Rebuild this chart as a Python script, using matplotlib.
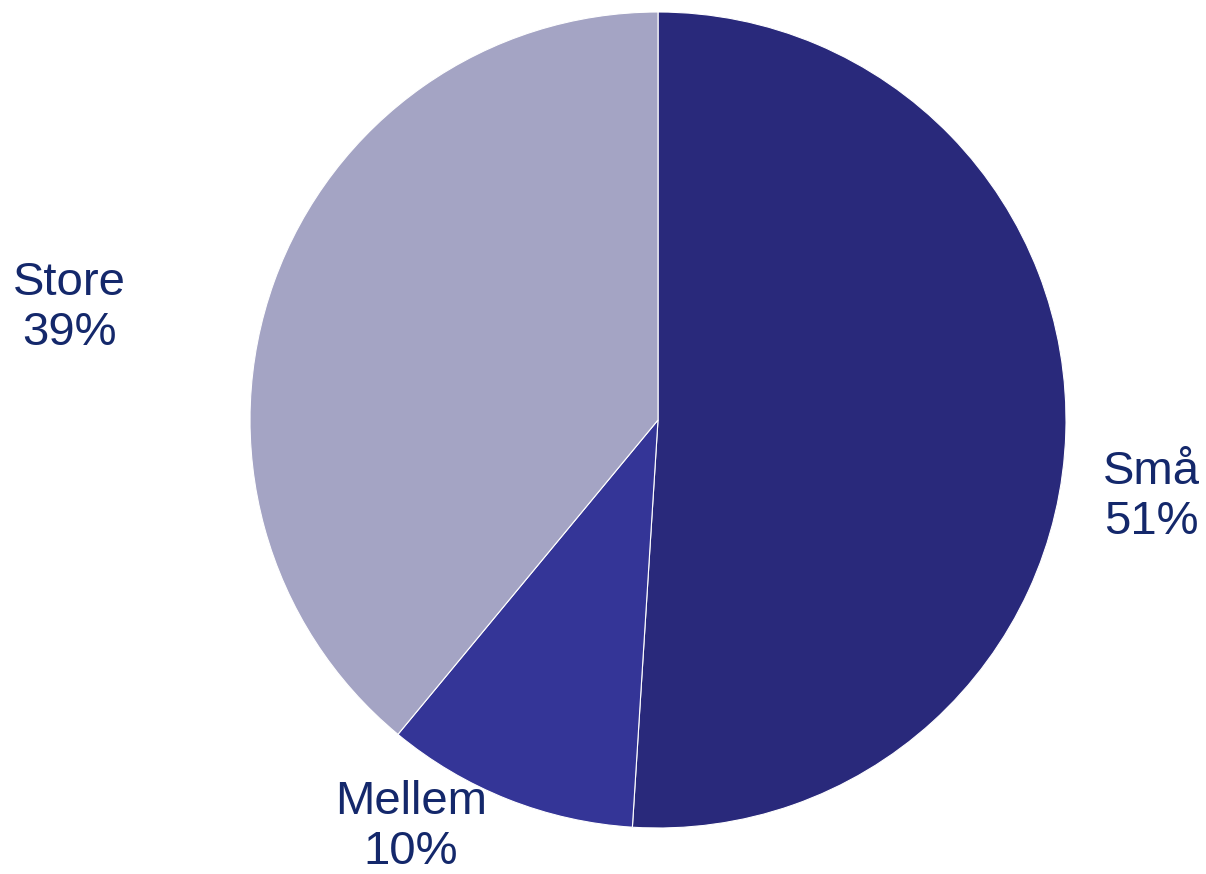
import matplotlib.pyplot as plt

# data
categories = ["Små", "Mellem", "Store"]
shares = [51, 10, 39]
colors = ["#29297B", "#343597", "#A4A4C4"]

# label anchor points in pixel coords (x, y from top) - layout only
label_pos = [(1151, 497), (411, 827), (69, 308)]

W, H = 1206, 874
fig = plt.figure(figsize=(W / 100, H / 100), dpi=100)
ax = fig.add_axes([0, 0, 1, 1])

wedges, _ = ax.pie(shares, colors=colors, startangle=90, counterclock=False,
                   center=(658, H - 420), radius=408, frame=True,
                   wedgeprops=dict(edgecolor="white", linewidth=0.8))

for cat, val, (x, y) in zip(categories, shares, label_pos):
    ax.text(x, H - y, f"{cat}\n{val}%", ha="center", va="center",
            fontsize=34, color="#14286B", family="Liberation Sans",
            linespacing=1.15)

ax.set_xlim(0, W)
ax.set_ylim(0, H)
ax.set_aspect("equal")
ax.axis("off")

fig.savefig("out.png", dpi=100)
